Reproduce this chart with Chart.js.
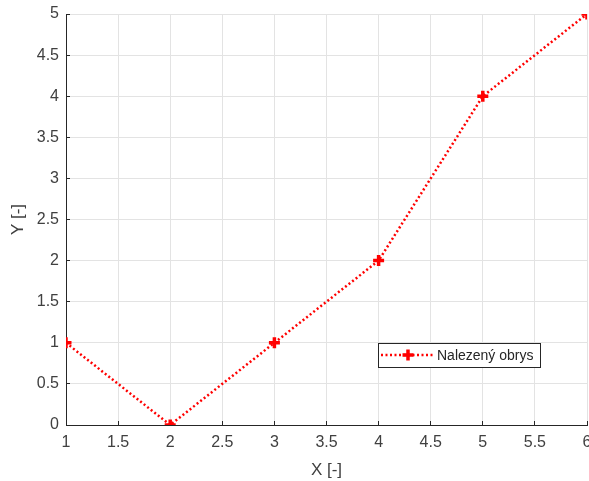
<!DOCTYPE html>
<html>
<head>
<meta charset="utf-8">
<script src="https://cdn.jsdelivr.net/npm/chart.js@4/dist/chart.umd.min.js"></script>
<style>
  html, body { margin: 0; padding: 0; background: #fff; overflow: hidden; }
  #wrap { width: 589px; height: 481px; overflow: hidden; }
</style>
</head>
<body>
<div id="wrap"><canvas id="chart" width="620" height="481"></canvas></div>
<script>
// values
const xValues = [1, 2, 3, 4, 5, 6];
const yValues = [1, 0, 1, 2, 4, 5];
const seriesLabel = 'Nalezený obrys';
const xTitle = 'X [-]';
const yTitle = 'Y [-]';

const axisColor = '#262626';
const labelColor = '#404040';
const gridColor = '#e3e3e3';
const lineRed = '#ff0000';
const fontFamily = '"Liberation Sans", Arial, Helvetica, sans-serif';

// MATLAB style tick labels: 1, 1.5, 2 ... (no trailing zeros)
const tickText = (v) => String(Math.round(v * 10) / 10);

// small legend box drawn inside the plot area
const boxLegend = {
    id: 'boxLegend',
    afterDraw(chart) {
        const ctx = chart.ctx;
        const ca = chart.chartArea;
        const ds = chart.data.datasets[0];
        const x0 = ca.right - 209, y0 = ca.bottom - 82, w = 162, h = 24;
        const cy = y0 + h / 2;
        ctx.save();
        ctx.fillStyle = '#fff';
        ctx.fillRect(x0, y0, w, h);
        ctx.strokeStyle = axisColor;
        ctx.lineWidth = 1;
        ctx.strokeRect(x0 + 0.5, y0 + 0.5, w, h);
        // sample line
        ctx.strokeStyle = ds.borderColor;
        ctx.lineWidth = ds.borderWidth;
        ctx.setLineDash(ds.borderDash);
        ctx.beginPath();
        ctx.moveTo(x0 + 3, cy);
        ctx.lineTo(x0 + 55, cy);
        ctx.stroke();
        ctx.setLineDash([]);
        // marker
        ctx.lineWidth = ds.pointBorderWidth;
        const r = ds.pointRadius, mx = x0 + 30;
        ctx.beginPath();
        ctx.moveTo(mx - r, cy); ctx.lineTo(mx + r, cy);
        ctx.moveTo(mx, cy - r); ctx.lineTo(mx, cy + r);
        ctx.stroke();
        // text
        ctx.fillStyle = axisColor;
        ctx.font = '14px ' + fontFamily;
        ctx.textBaseline = 'middle';
        ctx.textAlign = 'left';
        ctx.fillText(ds.label, x0 + 59, cy + 1);
        ctx.restore();
    }
};

const ctx = document.getElementById('chart').getContext('2d');
const config = {
    type: 'line',
    data: {
        datasets: [{
            label: seriesLabel,
            data: xValues.map((x, i) => ({ x: x, y: yValues[i] })),
            borderColor: lineRed,
            backgroundColor: lineRed,
            borderWidth: 2.5,
            borderDash: [2, 2.5],
            borderCapStyle: 'butt',
            fill: false,
            tension: 0,
            pointStyle: 'cross',
            pointRadius: 5.5,
            pointBorderWidth: 3.5,
            pointBorderColor: lineRed,
            pointBackgroundColor: lineRed
        }]
    },
    options: {
        responsive: false,
        animation: false,
        events: [],
        layout: { padding: { top: 14, right: 33, bottom: 0, left: 0 } },
        plugins: {
            legend: { display: false },
            tooltip: { enabled: false }
        },
        scales: {
            x: {
                type: 'linear',
                min: 1,
                max: 6,
                afterFit: (scale) => {
                    scale.height = 56;
                    scale.paddingLeft = 0;
                    scale.paddingRight = 0;
                },
                ticks: {
                    stepSize: 0.5,
                    color: labelColor,
                    font: { family: fontFamily, size: 16 },
                    padding: 12,
                    maxRotation: 0,
                    callback: tickText
                },
                grid: {
                    color: gridColor,
                    tickColor: axisColor,
                    tickLength: -4,
                    drawTicks: true
                },
                border: { color: axisColor, width: 1 },
                title: {
                    display: true,
                    text: xTitle,
                    color: labelColor,
                    font: { family: fontFamily, size: 17 },
                    padding: { top: 0, bottom: 0 }
                }
            },
            y: {
                type: 'linear',
                min: 0,
                max: 5,
                afterFit: (scale) => {
                    scale.width = 66;
                    scale.paddingTop = 0;
                    scale.paddingBottom = 0;
                },
                ticks: {
                    stepSize: 0.5,
                    color: labelColor,
                    font: { family: fontFamily, size: 16 },
                    padding: 11,
                    callback: tickText
                },
                grid: {
                    color: gridColor,
                    tickColor: axisColor,
                    tickLength: -4,
                    drawTicks: true
                },
                border: { color: axisColor, width: 1 },
                title: {
                    display: true,
                    text: yTitle,
                    color: labelColor,
                    font: { family: fontFamily, size: 17 },
                    padding: { top: 8, bottom: 0 }
                }
            }
        }
    },
    plugins: [boxLegend]
};

const chart = new Chart(ctx, config);
</script>
</body>
</html>
